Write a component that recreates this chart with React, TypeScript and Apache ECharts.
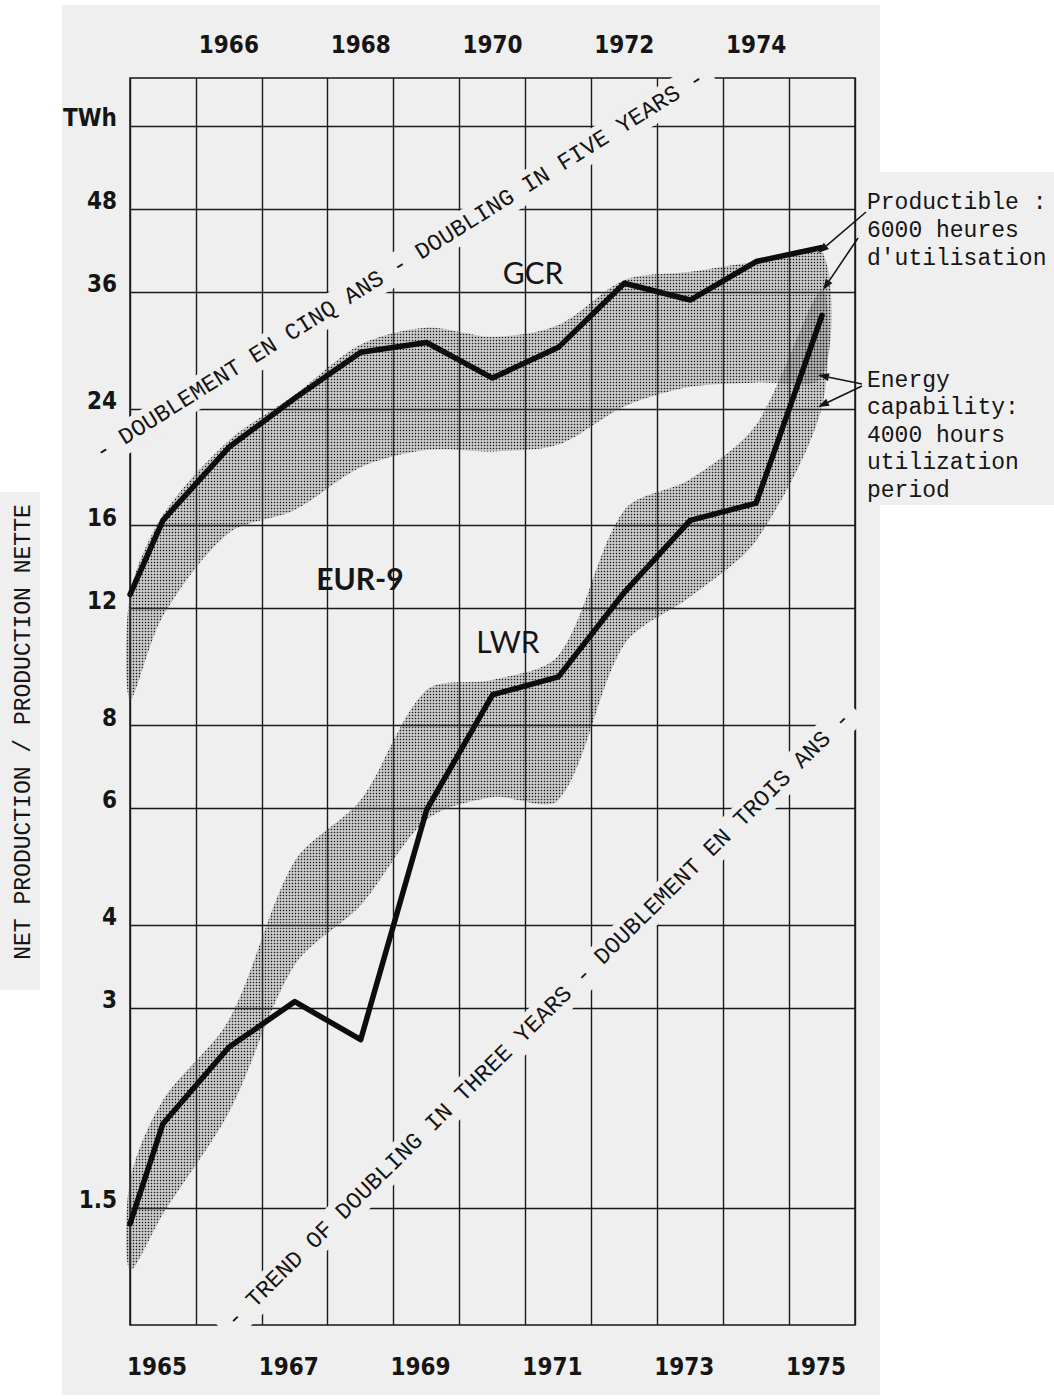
import React, { useEffect, useRef } from 'react';
import * as echarts from 'echarts';

// ---------- data ----------
const years = ['1965', '1966', '1967', '1968', '1969', '1970', '1971', '1972', '1973', '1974', '1975'];
// x positions of the plotted points (start of 1965, then each year)
const pointYears = [1964.5, 1965, 1966, 1967, 1968, 1969, 1970, 1971, 1972, 1973, 1974, 1975];

// net production, TWh
const gcrNet = [12.6, 16.3, 21.0, 24.9, 29.2, 30.2, 26.7, 29.7, 37.1, 35.0, 40.0, 42.0];
const lwrNet = [1.42, 2.01, 2.62, 3.07, 2.69, 5.97, 8.9, 9.47, 12.7, 16.3, 17.3, 33.2];

// bands: productible (6000 h) and energy capability (4000 h), TWh
const gcrProductible = [12.6, 16.6, 21.5, 25.2, 30.0, 31.8, 30.8, 32.1, 37.5, 38.6, 40.0, 41.4];
const gcrCapability = [8.74, 11.7, 15.6, 16.9, 19.6, 20.8, 20.7, 21.2, 24.2, 25.9, 26.3, 26.8];
const lwrProductible = [1.65, 2.18, 2.88, 5.0, 6.18, 9.05, 9.37, 10.2, 16.9, 18.8, 22.7, 36.3];
const lwrCapability = [1.21, 1.47, 2.09, 3.49, 4.29, 5.77, 6.24, 6.18, 10.6, 12.5, 15.2, 24.2];

// y axis (logarithmic) ticks
const yTickValues = [1.5, 3, 4, 6, 8, 12, 16, 24, 36, 48, 64];
const yTickLabels = ['1.5', '3', '4', '6', '8', '12', '16', '24', '36', '48', 'TWh'];
const yMinTWh = 1;
const yMaxTWh = 75.6;

const log2 = (v: number) => Math.log(v) / Math.LN2;

const tickFont = "'Liberation Sans Narrow', 'DejaVu Sans Condensed', 'Liberation Sans', Arial, sans-serif";
const monoFont = "'Liberation Mono', 'DejaVu Sans Mono', monospace";
const labelFont = "Lato, 'Liberation Sans', sans-serif";
const ink = '#151515';
const paper = '#efefef';

function makeDotPattern(): any {
  const c = document.createElement('canvas');
  c.width = 3;
  c.height = 3;
  const g = c.getContext('2d');
  if (g) {
    g.fillStyle = '#1c1c1c';
    g.fillRect(0.75, 0.75, 1.5, 1.5);
  }
  return { image: c, repeat: 'repeat', imageWidth: 3, imageHeight: 3 };
}

function arrow(x1: number, y1: number, x2: number, y2: number) {
  const dx = x2 - x1;
  const dy = y2 - y1;
  const L = Math.hypot(dx, dy);
  const ux = dx / L;
  const uy = dy / L;
  const hl = 11;
  const hw = 4;
  const bx = x2 - ux * hl;
  const by = y2 - uy * hl;
  return [
    { type: 'line', z: 20, shape: { x1, y1, x2: bx, y2: by }, style: { stroke: ink, lineWidth: 1.6 } },
    {
      type: 'polygon',
      z: 20,
      shape: { points: [[x2, y2], [bx - uy * hw, by + ux * hw], [bx + uy * hw, by - ux * hw]] },
      style: { fill: ink },
    },
  ];
}

function txt(opts: any) {
  const { x, y, rotation, text, fontSize, fontFamily, fontWeight, align, vAlign, lineHeight, bg, padding } = opts;
  const style: any = {
    text,
    x: 0,
    y: 0,
    fill: ink,
    fontSize,
    fontFamily,
    fontWeight: fontWeight || 'normal',
    align: align || 'center',
    verticalAlign: vAlign || 'middle',
    textAlign: align || 'center',
    textVerticalAlign: vAlign || 'middle',
  };
  if (lineHeight) style.lineHeight = lineHeight;
  if (bg) {
    style.backgroundColor = bg;
    style.textBackgroundColor = bg;
    style.padding = padding;
    style.textPadding = padding;
  }
  return { type: 'text', x, y, rotation: rotation || 0, z: 30, style };
}

function bandSeries(name: string, lower: number[], upper: number[], dots: any) {
  return {
    name,
    type: 'custom',
    xAxisIndex: 2,
    yAxisIndex: 0,
    silent: true,
    z: 2,
    encode: { x: 0, y: [1, 2] },
    data: pointYears.map((x, i) => [x, log2(lower[i]), log2(upper[i])]),
    renderItem: (params: any, api: any) => {
      if (params.dataIndex !== 0) return null;
      const top = pointYears.map((x, i) => api.coord([x, log2(upper[i])]));
      const bottom = pointYears.map((x, i) => api.coord([x, log2(lower[i])])).reverse();
      const points = top.concat(bottom);
      return {
        type: 'group',
        children: [
          { type: 'polygon', shape: { points, smooth: 0.3 }, style: { fill: 'rgba(120,120,120,0.2)' } },
          { type: 'polygon', shape: { points, smooth: 0.3 }, style: { fill: dots } },
        ],
      };
    },
  };
}

function netSeries(name: string, values: number[]) {
  return {
    name,
    type: 'line',
    xAxisIndex: 2,
    yAxisIndex: 0,
    symbol: 'none',
    silent: true,
    z: 6,
    lineStyle: { color: '#0d0d0d', width: 5.5, join: 'round', cap: 'round' },
    data: pointYears.map((x, i) => [x, log2(values[i])]),
  };
}

export default function App() {
  const ref = useRef<HTMLDivElement>(null);

  useEffect(() => {
    if (!ref.current) return;
    const chart = echarts.init(ref.current, null, { renderer: 'svg' });
    const yCustom = yTickValues.map(log2);
    const dots = makeDotPattern();
    const yearLabel = {
      fontSize: 24,
      fontWeight: 'bold',
      fontFamily: tickFont,
      color: ink,
    };

    const graphic: any[] = [
      // paper
      { type: 'rect', z: -100, silent: true, shape: { x: 62, y: 5, width: 818, height: 1390 }, style: { fill: paper } },
      { type: 'rect', z: -100, silent: true, shape: { x: 860, y: 172, width: 194, height: 333 }, style: { fill: paper } },
      { type: 'rect', z: -100, silent: true, shape: { x: 0, y: 492, width: 40, height: 498 }, style: { fill: paper } },
      // axis title
      txt({ x: 24, y: 732, rotation: Math.PI / 2, text: 'NET PRODUCTION / PRODUCTION NETTE', fontSize: 23, fontFamily: monoFont }),
      // diagonal trend texts
      txt({
        x: 400,
        y: 266,
        rotation: (32 * Math.PI) / 180,
        text: '- DOUBLEMENT EN CINQ ANS - DOUBLING IN FIVE YEARS -',
        fontSize: 23.3,
        fontFamily: monoFont,
        bg: paper,
        padding: [4, 10],
      }),
      txt({
        x: 539,
        y: 1020,
        rotation: (44.6 * Math.PI) / 180,
        text: '- TREND OF DOUBLING IN THREE YEARS - DOUBLEMENT EN TROIS ANS -',
        fontSize: 23.3,
        fontFamily: monoFont,
        bg: paper,
        padding: [4, 10],
      }),
      // series labels
      txt({ x: 533, y: 272, text: 'GCR', fontSize: 30, fontFamily: labelFont }),
      txt({ x: 360, y: 578, text: 'EUR-9', fontSize: 30, fontFamily: labelFont, fontWeight: 'bold' }),
      txt({ x: 508, y: 641, text: 'LWR', fontSize: 30, fontFamily: labelFont }),
      // annotations
      txt({
        x: 867,
        y: 189,
        text: "Productible :\n6000 heures\nd'utilisation",
        fontSize: 23,
        fontFamily: monoFont,
        align: 'left',
        vAlign: 'top',
        lineHeight: 28,
      }),
      txt({
        x: 867,
        y: 367,
        text: 'Energy\ncapability:\n4000 hours\nutilization\nperiod',
        fontSize: 23,
        fontFamily: monoFont,
        align: 'left',
        vAlign: 'top',
        lineHeight: 27.5,
      }),
      ...arrow(866, 212, 818, 253),
      ...arrow(858, 238, 823, 290),
      ...arrow(862, 384, 818, 375),
      ...arrow(862, 386, 818, 407),
    ];

    const option: any = {
      animation: false,
      backgroundColor: '#ffffff',
      grid: {
        left: 130,
        top: 78,
        width: 725,
        height: 1247,
        show: true,
        borderColor: '#161616',
        borderWidth: 1.5,
        backgroundColor: 'transparent',
      },
      xAxis: [
        {
          type: 'category',
          data: years,
          position: 'bottom',
          boundaryGap: true,
          axisLine: { show: false },
          axisTick: { show: false },
          axisLabel: { ...yearLabel, interval: 1, margin: 30, padding: [0, 12, 0, 0] },
          splitLine: { show: true, interval: 0, lineStyle: { color: '#1a1a1a', width: 1.4 } },
        },
        {
          type: 'category',
          data: years,
          position: 'top',
          boundaryGap: true,
          axisLine: { show: false },
          axisTick: { show: false },
          axisLabel: { ...yearLabel, interval: (i: number) => i % 2 === 1, margin: 21 },
          splitLine: { show: false },
        },
        { type: 'value', min: 1964.5, max: 1975.5, show: false },
      ],
      yAxis: [
        {
          type: 'value',
          min: log2(yMinTWh),
          max: log2(yMaxTWh),
          axisLine: { show: false },
          axisTick: { show: false, customValues: yCustom },
          axisLabel: {
            customValues: yCustom,
            margin: 13,
            fontSize: 24,
            fontWeight: 'bold',
            fontFamily: tickFont,
            color: ink,
            verticalAlign: 'bottom',
            lineHeight: 16,
            formatter: (val: number) => {
              const i = yCustom.findIndex((t) => Math.abs(t - val) < 1e-6);
              return i >= 0 ? yTickLabels[i] : '';
            },
          },
          splitLine: { show: true, lineStyle: { color: '#1a1a1a', width: 1.4 } },
        },
      ],
      series: [
        bandSeries('GCR band', gcrCapability, gcrProductible, dots),
        bandSeries('LWR band', lwrCapability, lwrProductible, dots),
        netSeries('GCR', gcrNet),
        netSeries('LWR', lwrNet),
      ],
      graphic,
    };
    chart.setOption(option);
    return () => chart.dispose();
  }, []);

  return <div ref={ref} style={{ position: 'absolute', left: 0, top: 0, width: 1054, height: 1399 }} />;
}
